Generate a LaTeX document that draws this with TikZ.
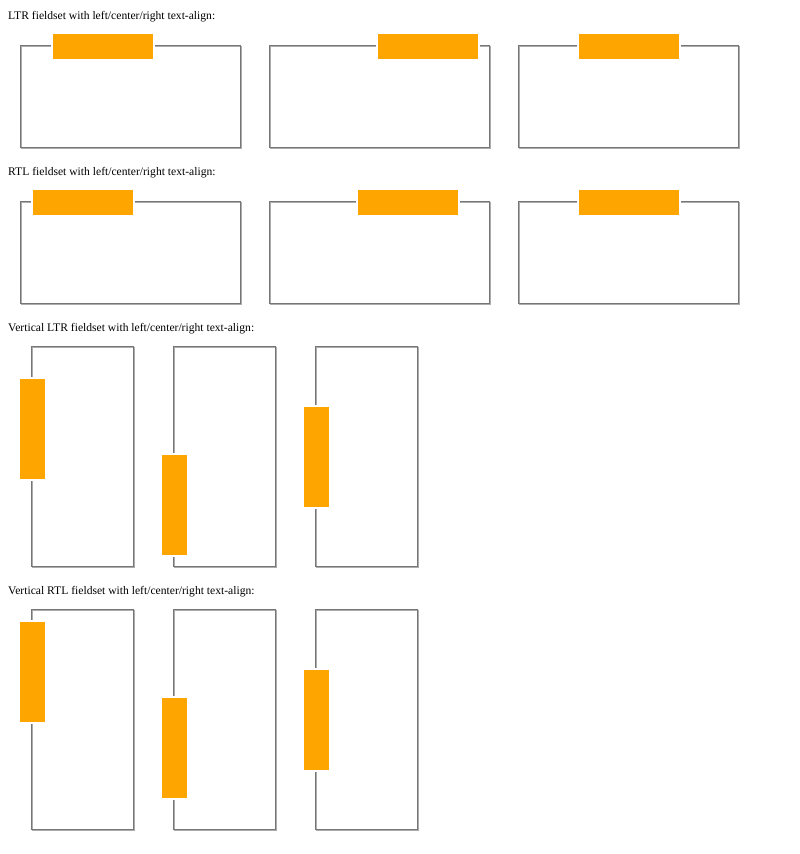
\documentclass[tikz,border=0pt]{standalone}
\usepackage{fontspec}
\setmainfont{Liberation Serif}
\definecolor{legendorange}{RGB}{255,165,0}
\definecolor{fsdark}{RGB}{118,118,118}
\definecolor{fslight}{RGB}{172,172,172}
\tikzset{
  fsdarkline/.style={draw=fsdark, line width=1pt},
  fslightline/.style={draw=fslight, line width=1pt},
  gapcut/.style={fill=white, draw=none},
  legendbox/.style={fill=legendorange, draw=none},
  caption/.style={anchor=base west, inner sep=0pt, font=\fontsize{11.6}{14}\selectfont}
}
% groove border of a box with outer corner (#1,#2), size #3 x #4
\newcommand{\groovebox}[4]{%
  \draw[fslightline] (#1+1.5,#2+1.5) rectangle (#1+#3-0.5,#2+#4-0.5);
  \draw[fsdarkline] (#1+0.5,#2+0.5) rectangle (#1+#3-1.5,#2+#4-1.5);
}
% horizontal fieldset: outer corner (#1,#2), legend left #3
\newcommand{\hfield}[3]{%
  \groovebox{#1}{#2}{222}{104}
  \fill[gapcut] (#3-2,#2-1) rectangle (#3+102,#2+3);
  \fill[legendbox] (#3,#2-11) rectangle (#3+100,#2+14);
}
% vertical fieldset: outer corner (#1,#2), legend top #3
\newcommand{\vfield}[3]{%
  \groovebox{#1}{#2}{104}{222}
  \fill[gapcut] (#1-1,#3-2) rectangle (#1+3,#3+102);
  \fill[legendbox] (#1-11,#3) rectangle (#1+14,#3+100);
}
\begin{document}
\begin{tikzpicture}[x=1pt,y=-1pt]
\useasboundingbox[fill=white] (0,0) rectangle (800,854);
\node[caption] (t1) at (8,19.5) {LTR fieldset with left/center/right text-align:};
\hfield{20}{45}{53}
\hfield{269}{45}{378}
\hfield{518}{45}{579}

\node[caption] (t2) at (8,175.5) {RTL fieldset with left/center/right text-align:};
\hfield{20}{201}{33}
\hfield{269}{201}{358}
\hfield{518}{201}{579}

\node[caption] (t3) at (8,331.5) {Vertical LTR fieldset with left/center/right text-align:};
\vfield{31}{346}{379}
\vfield{173}{346}{455}
\vfield{315}{346}{407}

\node[caption] (t4) at (8,594.5) {Vertical RTL fieldset with left/center/right text-align:};
\vfield{31}{609}{622}
\vfield{173}{609}{698}
\vfield{315}{609}{670}
\end{tikzpicture}
\end{document}
